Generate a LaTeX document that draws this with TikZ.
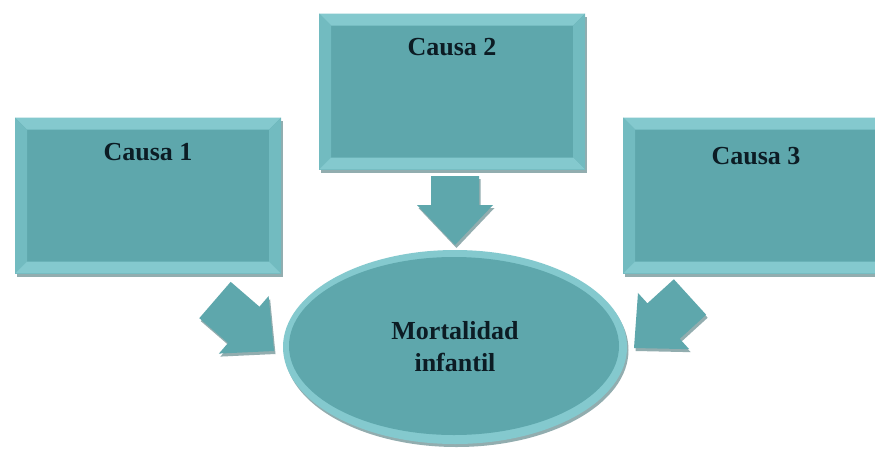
\documentclass[tikz,border=0pt]{standalone}
\usepackage{fontspec}
\setmainfont{Liberation Serif}
\usetikzlibrary{calc,shadows,shapes.geometric}

\definecolor{tealmain}{HTML}{5EA7AC}
\definecolor{teallight}{HTML}{84C9CE}
\definecolor{tealmid}{HTML}{72BBC0}
\definecolor{shadowcol}{HTML}{3A6A6E}
\definecolor{inkcol}{HTML}{0C1C24}

\tikzset{
  softshadow/.style={drop shadow={shadow xshift=1.5pt, shadow yshift=-3pt, fill=shadowcol, opacity=0.55}},
  causebox/.style={rectangle, inner sep=0pt, minimum width=266pt, minimum height=156pt,
    fill=tealmain, softshadow,
    path picture={
      \coordinate (nw) at (path picture bounding box.north west);
      \coordinate (ne) at (path picture bounding box.north east);
      \coordinate (sw) at (path picture bounding box.south west);
      \coordinate (se) at (path picture bounding box.south east);
      % bevelled frame: top, left, right, bottom faces
      \fill[teallight] (nw) -- (ne) -- ([shift={(-12,12)}]ne) -- ([shift={(12,12)}]nw) -- cycle;
      \fill[tealmid] (nw) -- ([shift={(12,12)}]nw) -- ([shift={(12,-12)}]sw) -- (sw) -- cycle;
      \fill[tealmid] (ne) -- ([shift={(-12,12)}]ne) -- ([shift={(-12,-12)}]se) -- (se) -- cycle;
      \fill[teallight] (sw) -- (se) -- ([shift={(-12,-12)}]se) -- ([shift={(12,-12)}]sw) -- cycle;
    }},
  causelbl/.style={font=\bfseries\fontsize{26}{32}\selectfont, text=inkcol, inner sep=0pt},
  effect/.style={ellipse, inner sep=0pt, minimum width=344pt, minimum height=194pt,
    fill=teallight, softshadow,
    path picture={
      \fill[tealmain] ([shift={(-1,-1)}]path picture bounding box.center) ellipse [x radius=165, y radius=89];
    }},
  effectlbl/.style={font=\bfseries\fontsize{26}{32}\selectfont, text=inkcol, align=center, inner sep=0pt},
  arrowfill/.style={fill=tealmain, softshadow},
}

% block arrow from #1 (back of shaft) to #2 (tip)
\newcommand{\blockarrow}[2]{%
  \path ($(#2)!40pt!(#1)$) coordinate (#1-hb);
  \fill[arrowfill] ($(#1)!24pt!90:(#2)$) -- ($(#1-hb)!24pt!90:(#2)$)
    -- ($(#1-hb)!38pt!90:(#2)$) -- (#2) -- ($(#1-hb)!38pt!-90:(#2)$)
    -- ($(#1-hb)!24pt!-90:(#2)$) -- ($(#1)!24pt!-90:(#2)$) -- cycle;}

\begin{document}
\begin{tikzpicture}[x=1pt, y=-1pt]
  \fill[white] (0,0) rectangle (875,450);
  \useasboundingbox (0,0) rectangle (875,450);
  \clip (0,0) rectangle (875,450);

  % causes
  \node[causebox] (c1) at (148,195.5) {};
  \node[causebox] (c2) at (452,91.5) {};
  \node[causebox] (c3) at (756,195.5) {};
  \node[causelbl] (t1) at ($(c1.north)+(0,35)$) {Causa 1};
  \node[causelbl] (t2) at ($(c2.north)+(0,34)$) {Causa 2};
  \node[causelbl] (t3) at ($(c3.north)+(0,39)$) {Causa 3};

  % effect
  \node[effect] (ell) at (455,347) {};
  \node[effectlbl] (te) at (ell.center) {Mortalidad\\infantil};

  % arrows from each cause towards the effect
  \coordinate (a1s) at (215,300);
  \coordinate (a1e) at (274,351);
  \coordinate (a2s) at (455,176);
  \coordinate (a2e) at (455,245);
  \coordinate (a3s) at (690,297);
  \coordinate (a3e) at (634,348);
  \blockarrow{a1s}{a1e}
  \blockarrow{a2s}{a2e}
  \blockarrow{a3s}{a3e}
\end{tikzpicture}
\end{document}
